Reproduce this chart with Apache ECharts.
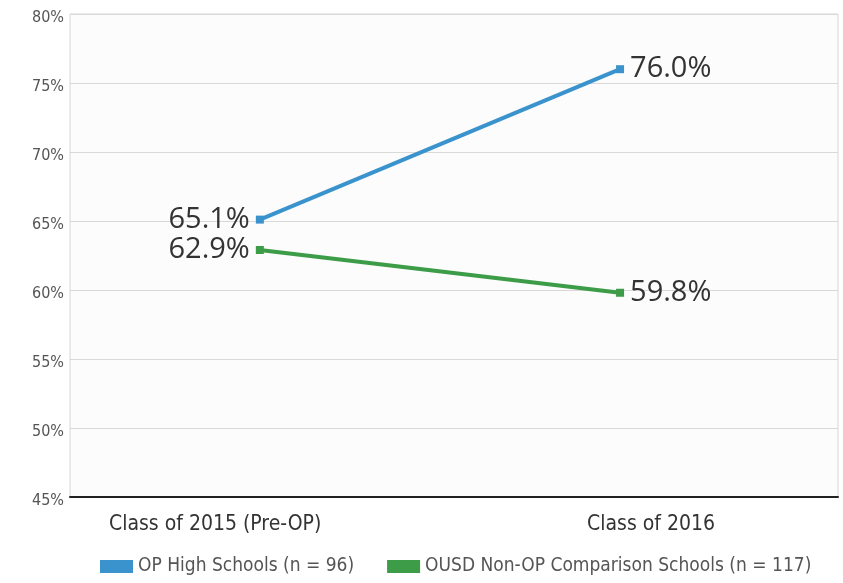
<!DOCTYPE html>
<html>
<head>
<meta charset="utf-8">
<script src="https://cdn.jsdelivr.net/npm/echarts@6/dist/echarts.min.js"></script>
<style>html,body{margin:0;padding:0;background:#fff}#c{width:843px;height:583px}</style>
</head>
<body>
<div id="c"></div>
<script>
var categories = ['Class of 2015 (Pre-OP)', 'Class of 2016'];
var seriesNames = ['OP High Schools (n = 96)', 'OUSD Non-OP Comparison Schools (n = 117)'];
var opValues = [65.1, 76.0];
var nonOpValues = [62.9, 59.8];
var yTicks = [45, 50, 55, 60, 65, 70, 75, 80];

var chart = echarts.init(document.getElementById('c'));
var labelFont = 'DejaVu Sans Condensed';
function pts(vals){
  return vals.map(function(v,i){
    return { value: [i, v], label: { position: i === 0 ? 'left' : 'right', distance: 6 } };
  });
}
var dataLabel = { show: true, fontFamily: 'Open Sans', fontSize: 29, color: '#333',
  formatter: function(p){ return p.value[1].toFixed(1) + '%'; } };
chart.setOption({
  animation: false,
  backgroundColor: '#fff',
  grid: { left: 70, right: 5, top: 14, bottom: 86, show: true, borderColor: '#d6d6d6', borderWidth: 1, backgroundColor: '#fcfcfc' },
  legend: {
    bottom: 2, left: 95, itemWidth: 33, itemHeight: 13, itemGap: 33,
    icon: 'rect',
    textStyle: { fontFamily: labelFont, fontSize: 19, color: '#555' },
    data: seriesNames
  },
  xAxis: {
    type: 'value', min: -0.527, max: 1.605,
    axisLine: { show: true, onZero: false, lineStyle: { color: '#222', width: 2 } },
    axisTick: { show: false },
    splitLine: { show: false },
    axisLabel: {
      customValues: [-0.124, 1.086],
      formatter: function(v){ return v < 0.5 ? categories[0] : categories[1]; },
      fontFamily: labelFont, fontSize: 21, color: '#333', margin: 17
    }
  },
  yAxis: {
    type: 'value', min: yTicks[0], max: yTicks[yTicks.length-1], interval: 5,
    axisLine: { show: false }, axisTick: { show: false },
    splitLine: { lineStyle: { color: '#d9d9d9', width: 1 } },
    axisLabel: { formatter: '{value}%', fontFamily: labelFont, fontSize: 16, color: '#555', margin: 6,
      verticalAlign: 'top', padding: [-4, 0, 0, 0] }
  },
  series: [
    {
      name: seriesNames[0], type: 'line', data: pts(opValues),
      symbol: 'rect', symbolSize: 8,
      itemStyle: { color: '#3a93cd' }, lineStyle: { color: '#3a93cd', width: 4 },
      label: dataLabel
    },
    {
      name: seriesNames[1], type: 'line', data: pts(nonOpValues),
      symbol: 'rect', symbolSize: 8,
      itemStyle: { color: '#3c9c47' }, lineStyle: { color: '#3c9c47', width: 4 },
      label: dataLabel
    }
  ]
});
</script>
</body>
</html>
